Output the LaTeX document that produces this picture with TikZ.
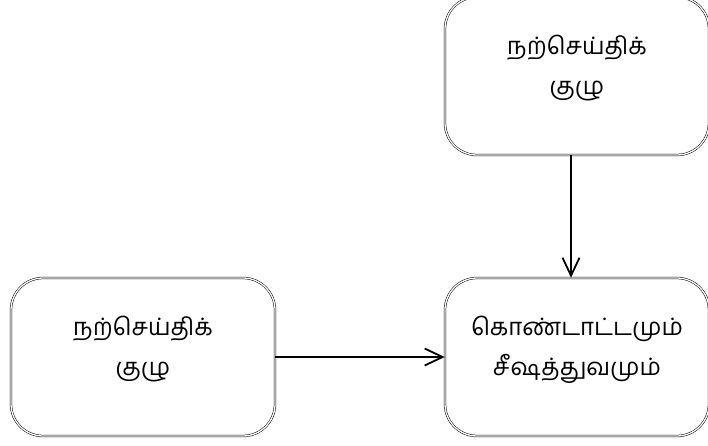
\documentclass[tikz,border=0pt]{standalone}
\usepackage{fontspec}
\newfontfamily\tamilfont[Script=Tamil]{Hind Madurai}
\usetikzlibrary{arrows.meta}

\begin{document}
\begin{tikzpicture}[x=1pt,y=-1pt, box/.style={draw,double,double distance=1.3pt,line width=0.5pt,rounded corners=32pt,minimum width=264pt,minimum height=158pt,align=center,text height=60pt,text depth=24pt,font=\tamilfont\fontsize{24}{40}\selectfont}, arr/.style={draw,line width=1.8pt,-{Straight Barb[length=18pt,width=17pt]}}]
    \useasboundingbox (0,0) rectangle (708,445);
    \node[box] (teamtop) at (577,76) {நற்செய்திக்\\குழு};
    \node[box] (teamleft) at (143,357) {நற்செய்திக்\\குழு};
    \node[box] (celeb) at (577,357) {கொண்டாட்டமும்\\சீஷத்துவமும்};

    \draw[arr] ([xshift=-6pt]teamtop.south) -- ([xshift=-6pt]celeb.north);
    \draw[arr] (teamleft) -- (celeb);
  \end{tikzpicture}
\end{document}
